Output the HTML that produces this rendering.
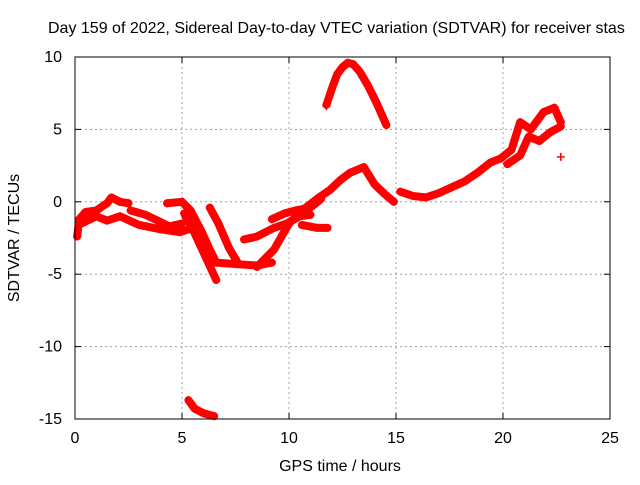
<!DOCTYPE html>
<html><head><meta charset="utf-8"><style>
body{margin:0;background:#fff}
svg text{font-family:"Liberation Sans",sans-serif;font-size:16px;fill:#000}
</style></head><body>
<svg id="c" width="640" height="480">
<text x="48" y="33">Day 159 of 2022, Sidereal Day-to-day VTEC variation (SDTVAR) for receiver stas</text>
<text x="340" y="471" text-anchor="middle">GPS time / hours</text>
<text transform="translate(19,238) rotate(-90)" text-anchor="middle">SDTVAR / TECUs</text>
<g id="grid"></g><g id="data"></g>
<rect x="75" y="57" width="535" height="362" fill="none" stroke="#000" stroke-width="1"/>
</svg>
<script>
const xTicks=[0,5,10,15,20,25];
const yTicks=[10,5,0,-5,-10,-15];
const track1=[[0.1,-2.4],[0.2,-1.2],[0.5,-0.7],[1.0,-0.6],[1.5,-0.1],[1.7,0.3],[2.1,0],[2.5,-0.1]];
const track2=[[0.3,-1.5],[1.0,-1.0],[1.5,-1.3],[2.1,-1.0],[3.0,-1.6],[4.0,-1.9],[4.9,-2.1],[5.5,-1.8]];
const track3=[[2.6,-0.6],[3.3,-0.9],[4.0,-1.4],[4.4,-1.7],[5.0,-1.5]];
const track4=[[4.3,-0.1],[5.0,0],[5.4,-0.6],[5.9,-2.0],[6.3,-3.3],[6.6,-4.2],[7.5,-4.3],[8.5,-4.4],[9.2,-4.2]];
const track5=[[5.1,-0.8],[5.6,-2.2],[6.1,-3.8],[6.6,-5.4]];
const track6=[[6.3,-0.4],[6.7,-1.5],[7.2,-3.2],[7.6,-4.2]];
const track7=[[7.9,-2.6],[8.5,-2.4],[9.3,-1.8],[9.9,-1.5],[10.5,-1.0],[11.0,-0.9]];
const track8=[[8.5,-4.5],[9.3,-3.3],[10.0,-1.5],[10.7,-0.5],[11.4,0.3],[11.9,0.8],[12.4,1.5],[12.85,2.0],[13.5,2.4],[14.0,1.2],[14.5,0.5],[14.9,0]];
const track9=[[9.2,-1.2],[9.8,-0.8],[10.3,-0.6],[11.0,-0.4],[11.5,0.2]];
const track10=[[10.6,-1.6],[11.3,-1.8],[11.8,-1.8]];
const track11=[[15.2,0.7],[15.8,0.4],[16.4,0.3],[17.0,0.6],[17.6,1.0],[18.2,1.4],[18.8,2.0],[19.4,2.7],[19.9,3.0],[20.4,3.6],[20.8,5.5],[21.3,5.0],[21.9,6.2],[22.4,6.5],[22.7,5.5]];
const track12=[[20.2,2.6],[20.8,3.2],[21.2,4.5],[21.7,4.2],[22.2,4.8],[22.7,5.2]];
const arch=[[11.75,6.7],[12.0,7.8],[12.25,8.8],[12.5,9.3],[12.75,9.6],[13.0,9.5],[13.3,9.0],[13.7,8.0],[14.1,6.8],[14.55,5.3]];
const lowSeg=[[5.3,-13.7],[5.6,-14.3],[6.0,-14.6],[6.5,-14.8]];
const outliers=[[22.7,3.1],[11.75,6.6]];
const tracks=[track1,track2,track3,track4,track5,track6,track7,track8,track9,track10,track11,track12,arch,lowSeg];
const sx=h=>75+h*21.4, sy=v=>201.8-v*14.48;
const NS='http://www.w3.org/2000/svg';
const g=document.getElementById('grid'), d=document.getElementById('data');
function mk(tag,attrs,parent){const e=document.createElementNS(NS,tag);for(const k in attrs)e.setAttribute(k,attrs[k]);parent.appendChild(e);return e;}
xTicks.forEach(t=>{const x=sx(t);
 if(t>0&&t<25){const l=mk('line',{x1:x,x2:x,y1:57,y2:419,stroke:'#a0a0a0','stroke-dasharray':'2,3'},g);
 
 }
 mk('line',{x1:x,x2:x,y1:419,y2:413,stroke:'#000'},g);mk('line',{x1:x,x2:x,y1:57,y2:63,stroke:'#000'},g);
 const tx=mk('text',{x:x,y:443,'text-anchor':'middle'},g);tx.textContent=t;
 
 });
yTicks.forEach(t=>{const y=sy(t);
 if(t<10&&t>-15){const l=mk('line',{x1:75,x2:610,y1:y,y2:y,stroke:'#a0a0a0','stroke-dasharray':'2,3'},g);
 
 }
 mk('line',{x1:75,x2:81,y1:y,y2:y,stroke:'#000'},g);mk('line',{x1:610,x2:604,y1:y,y2:y,stroke:'#000'},g);
 const tx=mk('text',{x:62,y:y+5,'text-anchor':'end'},g);tx.textContent=t;
 
 });
function plus(h,v){const x=sx(h),y=sy(v);
 const p=mk('path',{d:`M${x-4},${y}H${x+4}M${x},${y-4}V${y+4}`,stroke:'#f00','stroke-width':1.5},d);
 
 }
tracks.forEach(tr=>{
 const pl=mk('polyline',{points:tr.map(p=>sx(p[0])+','+sy(p[1])).join(' '),fill:'none',stroke:'#f00','stroke-width':8,'stroke-linejoin':'round','stroke-linecap':'round'},d);
 
 
 tr.forEach(p=>plus(p[0],p[1]));});
outliers.forEach(p=>plus(p[0],p[1]));
</script>
</body></html>
